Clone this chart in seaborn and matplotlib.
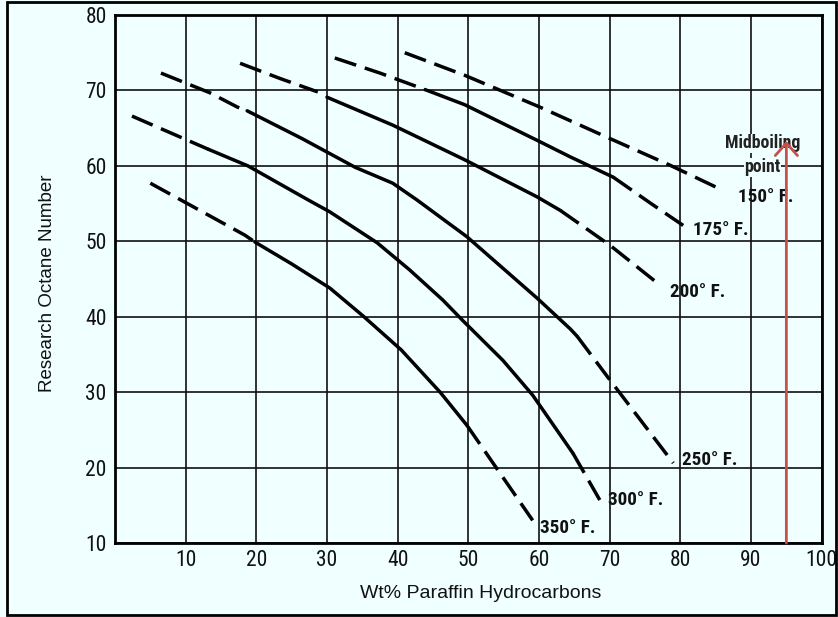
import matplotlib
matplotlib.use("Agg")
import matplotlib.pyplot as plt
import seaborn as sns
from matplotlib import font_manager
from matplotlib.patches import Rectangle

# ---------------- data ----------------
temp_labels = ["150° F.", "175° F.", "200° F.", "250° F.", "300° F.", "350° F."]

x150 = [41.0, 49.5, 60.1, 69.6, 78.5, 85.9]
y150 = [75.0, 72.0, 67.8, 63.8, 60.1, 56.8]

x175 = [31.1, 37.5, 43.9, 49.5, 59.7, 64.4, 70.5, 75.7, 80.4]
y175 = [74.3, 72.3, 70.1, 68.1, 63.4, 61.2, 58.5, 55.1, 52.1]

x200 = [17.7, 23.3, 28.7, 30.0, 39.3, 49.5, 59.7, 63.0, 70.0, 77.1]
y200 = [73.6, 71.6, 69.8, 69.1, 65.4, 60.8, 55.9, 54.1, 49.5, 44.2]

x250 = [6.5, 13.4, 17.3, 18.7, 26.5, 34.0, 39.3, 42.7, 49.8, 59.8, 64.4, 65.4, 69.8, 79.0]
y250 = [72.3, 69.7, 67.8, 67.3, 63.6, 59.8, 57.7, 55.5, 50.6, 42.4, 38.4, 37.4, 31.9, 20.6]

x300 = [2.4, 13.2, 18.8, 27.3, 30.4, 37.1, 41.7, 46.4, 49.2, 54.9, 59.1, 64.8, 68.6]
y300 = [66.6, 62.2, 60.0, 55.5, 53.9, 49.8, 46.2, 42.2, 39.5, 34.2, 29.6, 21.9, 15.7]

x350 = [5.0, 18.4, 19.8, 25.0, 30.4, 35.1, 40.5, 46.0, 49.8, 59.1]
y350 = [57.7, 50.8, 49.9, 47.0, 43.8, 40.1, 35.6, 30.0, 25.6, 13.0]

# (last index of leading dashed part, first index of solid, last index of solid); None = all dashed
segments = [None, (2, 2, 6), (2, 3, 7), (3, 3, 11), (1, 1, 11), (2, 2, 8)]

# label anchor positions (data coords)
label_x = [88.2, 81.8, 78.5, 80.2, 69.8, 60.1]
label_y = [55.9, 51.5, 43.3, 21.0, 15.7, 12.0]

x_ticks = [10, 20, 30, 40, 50, 60, 70, 80, 90, 100]
y_ticks = [10, 20, 30, 40, 50, 60, 70, 80]

arrow_x = 95
arrow_y0, arrow_y1 = 10, 63.3

# ---------------- style ----------------
BG = "#F0FFFF"
sns.set_style("white", {"axes.facecolor": BG, "figure.facecolor": BG})

fonts = font_manager.fontManager.ttflist
names = {f.name for f in fonts}
narrow, stretch = "DejaVu Sans", "normal"
for cand in ["Liberation Sans Narrow", "Roboto Condensed", "Open Sans Condensed", "Noto Sans Condensed"]:
    if cand in names:
        narrow, stretch = cand, "normal"
        break
else:
    for f in fonts:
        if f.name in ("DejaVu Sans", "Noto Sans", "Roboto", "Open Sans") and str(f.stretch) in ("condensed", "semi-condensed", "75", "87.5", "62.5"):
            narrow, stretch = f.name, "condensed"
            break
sans = "Liberation Sans" if "Liberation Sans" in names else "DejaVu Sans"
plt.rcParams["font.family"] = [sans, "DejaVu Sans"]

fig = plt.figure(figsize=(8.38, 6.17), dpi=100)
fig.patch.set_facecolor(BG)
W, H = 838, 617
ax = fig.add_axes([115 / W, 1 - 543 / H, (821.7 - 115) / W, (543 - 15) / H])
ax.set_facecolor(BG)

LW = 2.5
DASH = (0, (6.5, 2.6))

curves = [(x150, y150), (x175, y175), (x200, y200), (x250, y250), (x300, y300), (x350, y350)]
for (xs, ys), seg in zip(curves, segments):
    if seg is None:
        parts = [(0, len(xs) - 1, DASH)]
    else:
        d_end, s0, s1 = seg
        parts = [(0, d_end, DASH), (s0, s1, "-"), (s1, len(xs) - 1, DASH)]
    for a, b, ls in parts:
        sns.lineplot(x=xs[a:b + 1], y=ys[a:b + 1], ax=ax, color="black", lw=LW,
                     linestyle=ls, sort=False, estimator=None, zorder=3)

lab_font = dict(family=narrow, stretch=stretch, fontweight="bold")
for lab, lx, ly in zip(temp_labels, label_x, label_y):
    ax.text(lx, ly, lab, fontsize=13.8, ha="left", va="center", zorder=4,
            color="#111111", **lab_font)

# Midboiling point annotation
for txt, ty in [("Midboiling", 63.0), ("point", 59.8)]:
    ax.text(91.6, ty, txt, fontsize=12.8, ha="center", va="center", zorder=4,
            color="#222222", bbox=dict(facecolor=BG, edgecolor="none", pad=0.5),
            **lab_font)
ax.annotate("", xy=(arrow_x, arrow_y1), xytext=(arrow_x, arrow_y0),
            arrowprops=dict(arrowstyle="->,head_length=0.45,head_width=0.4",
                            color="#C8504A", lw=2, mutation_scale=20,
                            shrinkA=0, shrinkB=0),
            zorder=6, annotation_clip=False)

ax.set_xlim(0, 100)
ax.set_ylim(10, 80)
ax.set_xticks(x_ticks)
ax.set_yticks(y_ticks)
ax.set_xticklabels([str(t) for t in x_ticks], family=narrow, stretch=stretch, fontsize=15.5)
ax.set_yticklabels([str(t) for t in y_ticks], family=narrow, stretch=stretch, fontsize=15.5)
ax.tick_params(axis="both", length=0, colors="#111111")
ax.tick_params(axis="x", pad=5)
ax.tick_params(axis="y", pad=6)
ax.grid(True, color="#111111", lw=1.2, zorder=1)
ax.set_axisbelow(True)
for sp in ax.spines.values():
    sp.set_visible(True)
    sp.set_color("black")
    sp.set_linewidth(2)
ax.set_xlabel("")
ax.set_ylabel("")

fig.text(481 / W, 1 - 593 / H, "Wt% Paraffin Hydrocarbons", ha="center", va="center",
         fontsize=14, family=sans, color="#111111")
fig.text(48 / W, 1 - 283 / H, "Research Octane Number", ha="center", va="center",
         rotation=90, fontsize=13.5, family=sans, color="#111111")

fig.add_artist(Rectangle((7 / W, 2 / H), (836 - 7) / W, (615 - 2) / H,
                         transform=fig.transFigure, fill=False, ec="black", lw=2))

fig.savefig("out.png", dpi=100, facecolor=BG)
